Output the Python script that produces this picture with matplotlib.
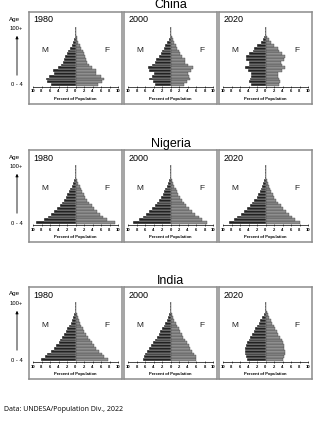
import numpy as np
import matplotlib
matplotlib.use("Agg")
import matplotlib.pyplot as plt
from matplotlib.patches import FancyArrowPatch

plt.rcParams['font.family'] = ['Liberation Sans', 'DejaVu Sans']

# age groups 0-4 ... 100+ (21 groups), percent of population
ages = np.arange(21)
countries = ["China", "Nigeria", "India"]
years = ["1980", "2000", "2020"]

china_1980_m = [5.7, 6.8, 7.0, 6.2, 5.0, 5.2, 4.2, 3.4, 3.0, 2.7, 2.4, 2.1, 1.7, 1.3, 0.9, 0.6, 0.35, 0.15, 0.06, 0.02, 0.01]
china_1980_f = [5.3, 6.3, 6.6, 5.9, 4.8, 4.9, 3.9, 3.2, 2.8, 2.5, 2.3, 2.0, 1.7, 1.4, 1.0, 0.7, 0.45, 0.25, 0.1, 0.04, 0.01]
china_2000_m = [3.6, 4.2, 5.0, 4.4, 4.0, 5.0, 5.3, 4.4, 3.6, 3.5, 2.7, 2.3, 2.0, 1.6, 1.2, 0.8, 0.4, 0.2, 0.08, 0.03, 0.01]
china_2000_f = [3.2, 3.8, 4.7, 4.3, 4.0, 4.9, 5.2, 4.2, 3.4, 3.3, 2.6, 2.2, 1.9, 1.6, 1.3, 0.9, 0.55, 0.3, 0.12, 0.04, 0.01]
china_2020_m = [3.5, 3.8, 3.6, 3.3, 3.4, 4.1, 4.8, 4.0, 3.9, 4.6, 4.7, 3.8, 3.0, 2.8, 1.9, 1.1, 0.6, 0.3, 0.1, 0.03, 0.01]
china_2020_f = [3.1, 3.3, 3.1, 2.9, 3.0, 3.8, 4.5, 3.8, 3.7, 4.4, 4.6, 3.8, 3.1, 2.9, 2.1, 1.3, 0.8, 0.45, 0.2, 0.06, 0.01]

nigeria_1980_m = [9.3, 7.4, 6.5, 5.8, 5.0, 4.3, 3.7, 3.2, 2.7, 2.3, 1.9, 1.5, 1.2, 0.9, 0.6, 0.35, 0.18, 0.08, 0.03, 0.01, 0.005]
nigeria_1980_f = [9.2, 7.3, 6.4, 5.8, 5.1, 4.4, 3.8, 3.2, 2.7, 2.3, 1.9, 1.6, 1.3, 1.0, 0.7, 0.4, 0.2, 0.09, 0.03, 0.01, 0.005]
nigeria_2000_m = [8.9, 7.3, 6.5, 5.8, 5.0, 4.3, 3.7, 3.1, 2.6, 2.2, 1.8, 1.5, 1.2, 0.9, 0.6, 0.35, 0.18, 0.08, 0.03, 0.01, 0.005]
nigeria_2000_f = [8.5, 7.4, 6.6, 5.8, 5.0, 4.3, 3.7, 3.1, 2.6, 2.2, 1.8, 1.5, 1.2, 0.9, 0.65, 0.4, 0.2, 0.09, 0.03, 0.01, 0.005]
nigeria_2020_m = [8.6, 7.4, 6.6, 5.8, 5.0, 4.3, 3.7, 3.1, 2.6, 2.1, 1.7, 1.4, 1.1, 0.8, 0.55, 0.32, 0.16, 0.07, 0.03, 0.01, 0.005]
nigeria_2020_f = [8.0, 7.0, 6.3, 5.6, 4.9, 4.2, 3.6, 3.0, 2.5, 2.1, 1.7, 1.4, 1.1, 0.85, 0.6, 0.35, 0.18, 0.08, 0.03, 0.01, 0.005]

india_1980_m = [8.2, 7.1, 6.6, 5.8, 5.0, 4.5, 4.0, 3.6, 3.1, 2.7, 2.3, 1.9, 1.5, 1.1, 0.8, 0.5, 0.25, 0.1, 0.04, 0.01, 0.005]
india_1980_f = [7.6, 6.7, 6.2, 5.5, 4.9, 4.4, 3.9, 3.4, 2.9, 2.5, 2.1, 1.8, 1.4, 1.1, 0.8, 0.5, 0.25, 0.1, 0.04, 0.01, 0.005]
india_2000_m = [6.5, 6.3, 6.0, 5.5, 5.0, 4.5, 4.1, 3.7, 3.2, 2.8, 2.4, 2.0, 1.6, 1.3, 0.9, 0.6, 0.3, 0.12, 0.05, 0.015, 0.005]
india_2000_f = [6.0, 5.9, 5.6, 5.1, 4.7, 4.3, 3.9, 3.5, 3.0, 2.6, 2.2, 1.9, 1.6, 1.3, 0.9, 0.6, 0.3, 0.13, 0.05, 0.015, 0.005]
india_2020_m = [4.4, 4.7, 4.9, 4.9, 4.8, 4.6, 4.3, 4.0, 3.6, 3.2, 2.8, 2.4, 2.0, 1.6, 1.2, 0.8, 0.45, 0.2, 0.08, 0.02, 0.005]
india_2020_f = [4.0, 4.3, 4.5, 4.5, 4.4, 4.3, 4.1, 3.8, 3.4, 3.0, 2.7, 2.3, 2.0, 1.6, 1.2, 0.85, 0.5, 0.25, 0.1, 0.03, 0.005]

data = {
    "China": [(china_1980_m, china_1980_f), (china_2000_m, china_2000_f), (china_2020_m, china_2020_f)],
    "Nigeria": [(nigeria_1980_m, nigeria_1980_f), (nigeria_2000_m, nigeria_2000_f), (nigeria_2020_m, nigeria_2020_f)],
    "India": [(india_1980_m, india_1980_f), (india_2000_m, india_2000_f), (india_2020_m, india_2020_f)],
}

W, H = 329, 423
fig = plt.figure(figsize=(W / 100, H / 100), dpi=100)


def box(x, y, w, h):
    # pixel box (top-left origin) -> figure fraction
    return [x / W, 1 - (y + h) / H, w / W, h / H]


def fx(x):
    return x / W


def fy(y):
    return 1 - y / H


lefts = [29, 124, 219]
tops = [12, 150, 287]
pw, ph = 93, 92

for country, top in zip(countries, tops):
    fig.text(fx(170.5), fy(top - 6.5), country, fontsize=9, ha="center", va="center")

    # age axis on the left
    fig.text(fx(15), fy(top + 7), "Age", fontsize=4.5, ha="center", va="center")
    fig.text(fx(16), fy(top + 16), "100+", fontsize=4.2, ha="center", va="center")
    fig.text(fx(17), fy(top + 73), "0 - 4", fontsize=4.2, ha="center", va="center")
    arr = FancyArrowPatch((fx(17), fy(top + 66)), (fx(17), fy(top + 21)),
                          transform=fig.transFigure, arrowstyle="-|>",
                          mutation_scale=4, lw=0.6, color="black")
    fig.add_artist(arr)

    for year, left, (male, female) in zip(years, lefts, data[country]):
        frame = fig.add_axes(box(left, top, pw, ph))
        frame.set_xticks([])
        frame.set_yticks([])
        for s in frame.spines.values():
            s.set_color("#8c8c8c")
            s.set_linewidth(1.1)
        frame.text(4.5 / pw, 1 - 8 / ph, year, transform=frame.transAxes,
                   fontsize=6.5, ha="left", va="center")
        frame.text(16 / pw, 1 - 38 / ph, "M", transform=frame.transAxes,
                   fontsize=6, ha="center", va="center", color="#222222")
        frame.text(78 / pw, 1 - 38 / ph, "F", transform=frame.transAxes,
                   fontsize=6, ha="center", va="center", color="#222222")

        ax = fig.add_axes(box(left + 4, top + 15, 85, 60))
        ax.patch.set_alpha(0)
        ax.barh(ages, -np.array(male), height=1.0, color="#222222",
                edgecolor="white", linewidth=0.25)
        ax.barh(ages, female, height=1.0, color="#8f8f8f",
                edgecolor="#333333", linewidth=0.25)
        ax.set_xlim(-10, 10)
        ax.set_ylim(-0.9, 20.6)
        for s in ["left", "right", "top"]:
            ax.spines[s].set_visible(False)
        ax.spines["bottom"].set_linewidth(0.5)
        ax.set_yticks([])
        ticks = np.arange(-10, 11, 2)
        ax.set_xticks(ticks)
        ax.set_xticklabels([str(abs(t)) for t in ticks], fontsize=3, fontweight="bold")
        ax.tick_params(axis="x", length=2, width=0.4, direction="inout", pad=0.8)
        ax.set_xlabel("Percent of Population", fontsize=3, fontweight="bold", labelpad=2.5)

fig.text(fx(4), fy(409), "Data: UNDESA/Population Div., 2022", fontsize=5,
         family=["Open Sans", "DejaVu Sans"], ha="left", va="center")

fig.savefig("out.png", dpi=100)
